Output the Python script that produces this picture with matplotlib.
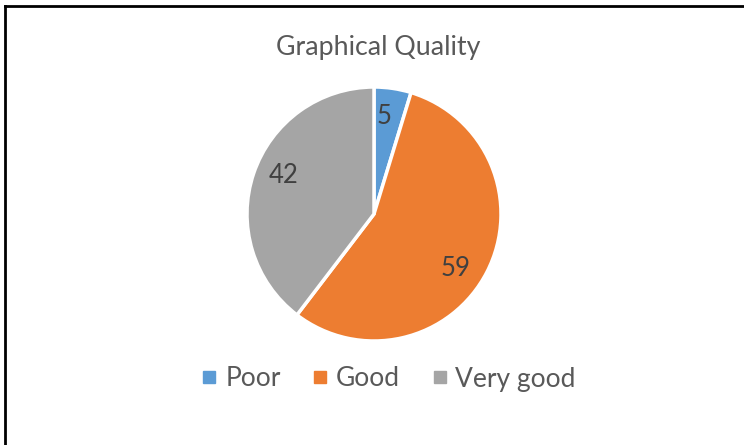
import matplotlib.pyplot as plt
from matplotlib.lines import Line2D
import numpy as np

categories = ["Poor", "Good", "Very good"]
values = [5, 59, 42]
colors = ["#5B9BD5", "#ED7D31", "#A5A5A5"]

W, H = 744, 445
fig = plt.figure(figsize=(W / 100, H / 100), dpi=100)
plt.rcParams['font.family'] = ['Lato', 'DejaVu Sans']

# pie axes placed in pixels: centre (374, 214), radius 127
cx, cy, r = 374, 214, 127
ax = fig.add_axes([(cx - r) / W, 1 - (cy + r) / H, 2 * r / W, 2 * r / H])
wedges, texts = ax.pie(values, labels=[str(v) for v in values], colors=colors,
                       startangle=90, counterclock=False, labeldistance=0.77,
                       wedgeprops=dict(edgecolor="white", linewidth=2.5),
                       textprops=dict(color="#404040", fontsize=18.5, ha="center", va="center"))

# excel "best fit" puts the labels a bit off the mid angle
nudge = [2.7, -6.5, -4.4]
for w, t, d in zip(wedges, texts, nudge):
    a = np.deg2rad((w.theta1 + w.theta2) / 2 + d)
    t.set_position((0.77 * np.cos(a), 0.77 * np.sin(a)))

ax.set_xlim(-1, 1)
ax.set_ylim(-1, 1)
ax.set_aspect("equal")

fig.text(378 / W, 1 - 47 / H, "Graphical Quality", ha="center", va="center",
         fontsize=19.3, color="#595959")

handles = [Line2D([], [], marker="s", linestyle="", markersize=9,
                  markerfacecolor=c, markeredgecolor=c) for c in colors]
fig.legend(handles, categories, loc="center", bbox_to_anchor=(386 / W, 1 - 379 / H),
           ncol=3, frameon=False, fontsize=19, labelcolor="#595959",
           handletextpad=0.1, columnspacing=1.0, handlelength=1.0)

# frame lines on top and left only
fig.add_artist(Line2D([5 / W, 1], [1 - 6 / H, 1 - 6 / H], color="black", linewidth=2))
fig.add_artist(Line2D([5 / W, 5 / W], [0, 1 - 6 / H], color="black", linewidth=2))

fig.savefig("out.png", dpi=100)
